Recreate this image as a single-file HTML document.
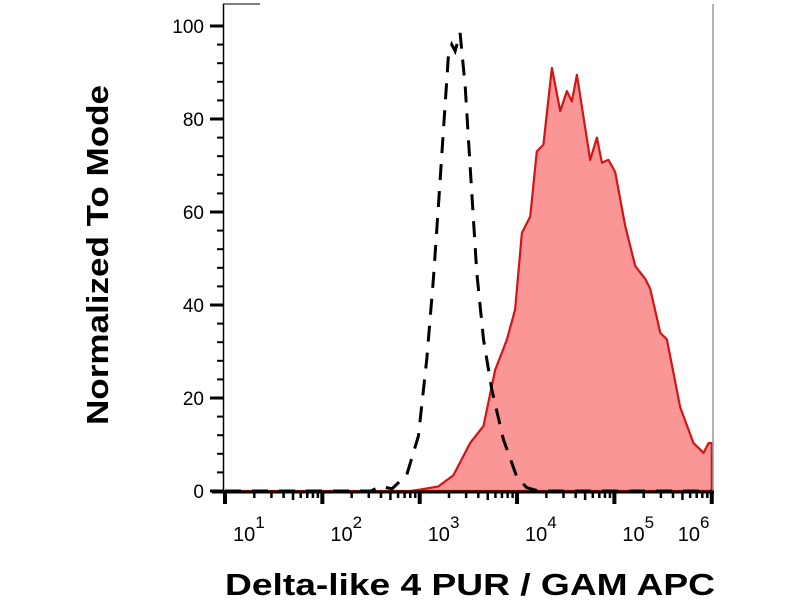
<!DOCTYPE html>
<html><head><meta charset="utf-8"><style>
body{margin:0;background:#fff;}
svg{display:block;font-family:"Liberation Sans",sans-serif;}
</style></head><body>
<svg id="c" width="800" height="600"></svg>
<script>
const redX=[1,2.9,3.004,3.192,3.346,3.518,3.655,3.775,3.895,3.98,4.05,4.135,4.203,4.271,4.358,4.443,4.512,4.563,4.615,4.751,4.82,4.872,4.939,5.008,5.111,5.214,5.317,5.368,5.471,5.539,5.676,5.813,5.916,5.967,6.0];
const redY=[0,0,0.3,1,3.4,10.3,14,26,32.5,39,55.5,59,73,74.5,91,81.7,86,83.8,89.5,71.2,76,70.6,71.2,68.6,57,48.4,45.6,43.5,34,32.6,18,10.3,8.2,10.3,10.3];
const dashX=[1,2.5,2.593,2.716,2.867,2.987,3.073,3.141,3.192,3.244,3.295,3.33,3.364,3.415,3.467,3.518,3.587,3.655,3.741,3.86,4.0,4.1,4.22,6.0];
const dashY=[0,0,1,0.5,3.5,11.8,28.4,45.6,61.3,77.8,93.6,96,94.6,98.5,87,69.9,46.9,32.6,21.8,11.1,2.9,0.7,0,0];
const yTicks=[0,20,40,60,80,100];
const xDecades=[1,2,3,4,5,6];
const NS="http://www.w3.org/2000/svg";
const svg=document.getElementById('c');
const X=l=>225+(l-1)*97.35;
const Y=v=>491-v*4.65;
function mk(t,a,p){const e=document.createElementNS(NS,t);for(const k in a)e.setAttribute(k,a[k]);(p||svg).appendChild(e);return e;}
let d='M'+X(redX[0])+','+Y(0);
redX.forEach((x,i)=>d+=' L'+X(x).toFixed(1)+','+Y(redY[i]).toFixed(1));
d+=' L'+X(6)+','+Y(0)+' Z';
const fill=mk('path',{d:d,fill:'#fb9696',stroke:'#d41414','stroke-width':2.2,'stroke-linejoin':'round'});


let d2='';
dashX.forEach((x,i)=>d2+=(i?' L':'M')+X(x).toFixed(1)+','+Y(dashY[i]).toFixed(1));
const dash=mk('path',{d:d2,fill:'none',stroke:'#000','stroke-width':3,'stroke-dasharray':'16,11'});


mk('line',{x1:223.5,y1:4,x2:223.5,y2:493,stroke:'#000','stroke-width':1.5});
mk('line',{x1:223,y1:4,x2:260,y2:4,stroke:'#000','stroke-width':1});
mk('line',{x1:713,y1:4,x2:713,y2:493,stroke:'#999','stroke-width':1.5});
mk('line',{x1:212,y1:492,x2:714,y2:492,stroke:'#000','stroke-width':3});
yTicks.forEach(v=>{
  mk('line',{x1:210,y1:Y(v),x2:223,y2:Y(v),stroke:'#000','stroke-width':3});
  const t=mk('text',{x:204,y:Y(v)+7,'text-anchor':'end','font-size':19});
  t.textContent=v;
  
  
  if(v<100)for(let k=1;k<5;k++)mk('line',{x1:217,y1:Y(v+k*4),x2:223,y2:Y(v+k*4),stroke:'#000','stroke-width':2});
});
xDecades.forEach((dd,i)=>{
  mk('line',{x1:X(dd),y1:492,x2:X(dd),y2:504,stroke:'#000','stroke-width':4});
  if(dd<6)for(let m=2;m<10;m++){const xx=X(dd+Math.log10(m));mk('line',{x1:xx,y1:492,x2:xx,y2:m==5?500:498,stroke:'#000','stroke-width':2.5});}
  const t=mk('text',{x:dd==6?X(dd)-34:X(dd)+8,y:541,'font-size':20});
  
  
  t.textContent='10';
  const s=mk('tspan',{dy:-13,'font-size':17},t);s.textContent=dd;
});
const yt=mk('text',{x:0,y:0,transform:'translate(108,255) rotate(-90)','text-anchor':'middle','font-size':31,'font-weight':'bold',textLength:340,lengthAdjust:'spacingAndGlyphs'});
yt.textContent='Normalized To Mode';


const xt=mk('text',{x:470,y:595,'text-anchor':'middle','font-size':31,'font-weight':'bold',textLength:490,lengthAdjust:'spacingAndGlyphs'});
xt.textContent='Delta-like 4 PUR / GAM APC';


</script>
</body></html>
